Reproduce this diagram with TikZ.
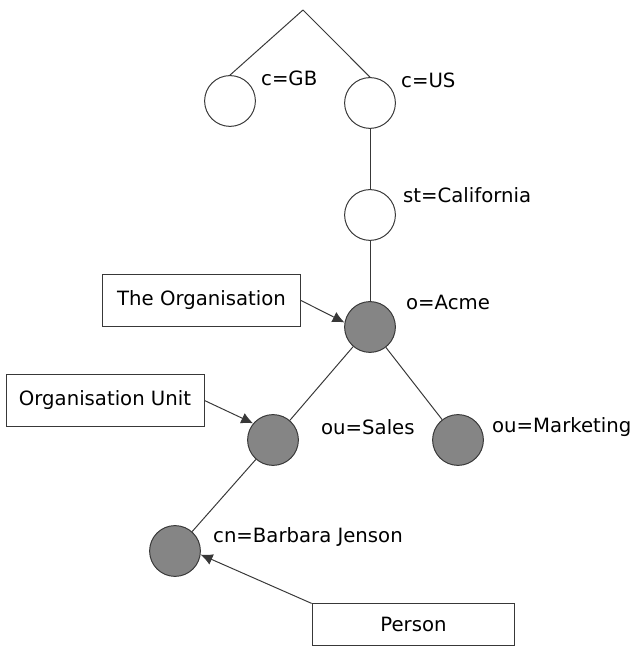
\documentclass[tikz,border=0pt]{standalone}
\usepackage{fontspec}
\setmainfont{DejaVu Sans}
\usetikzlibrary{positioning, arrows.meta}
\definecolor{entrygray}{HTML}{858585}
\definecolor{inkgray}{HTML}{383838}

\begin{document}
\begin{tikzpicture}[
  font=\fontsize{14pt}{17pt}\selectfont,
  entry/.style={circle, draw=inkgray, line width=0.7pt, minimum size=1.27cm, inner sep=0pt},
  emptyentry/.style={entry, fill=white},
  fullentry/.style={entry, fill=entrygray},
  rdn/.style={inner sep=0pt, anchor=west},
  tagbox/.style={draw=inkgray, line width=0.7pt, minimum width=4.95cm, minimum height=1.32cm, inner sep=0pt},
  link/.style={draw=inkgray, line width=0.7pt},
  arrow/.style={link, -{Latex[length=8.5pt,width=8pt]}},
]
\useasboundingbox (0,0) rectangle (15.925,16.15);

\coordinate (root) at (7.575,15.9);
\node[emptyentry] (gb) at (5.75,13.625) {};
\node[emptyentry] (us) at (9.25,13.575) {};
\node[emptyentry] (ca) at (9.25,10.775) {};
\node[fullentry] (acme) at (9.25,7.975) {};
\node[fullentry] (sales) at (6.825,5.15) {};
\node[fullentry] (mkt) at (11.45,5.15) {};
\node[fullentry] (barbara) at (4.375,2.375) {};

% attribute names beside each entry
\node[rdn, right=0.125cm of gb.east, yshift=0.575cm] (gbname) {c=GB};
\node[rdn, right=0.125cm of us.east, yshift=0.575cm] (usname) {c=US};
\node[rdn, right=0.175cm of ca.east, yshift=0.5cm] (caname) {st=California};
\node[rdn, right=0.25cm of acme.east, yshift=0.625cm] (acmename) {o=Acme};
\node[rdn, right=0.55cm of sales.east, yshift=0.325cm] (salesname) {ou=Sales};
\node[rdn, right=0.2cm of mkt.east, yshift=0.325cm] (mktname) {ou=Marketing};
\node[rdn, right=0.3cm of barbara.east, yshift=0.35cm] (barbaraname) {cn=Barbara Jenson};

\node[tagbox] (org) at (5.0375,8.6375) {The Organisation};
\node[tagbox] (unit) at (2.625,6.1375) {Organisation Unit};
\node[tagbox, minimum width=5.07cm, minimum height=1.03cm] (person) at (10.3375,0.5375) {Person};

\draw[link] (root) -- (gb.north);
\draw[link] (root) -- (us.north);
\draw[link] (us) -- (ca);
\draw[link] (ca) -- (acme);
\draw[link] (acme) -- (sales);
\draw[link] (acme) -- (mkt);
\draw[link] (sales) -- (barbara);

\draw[arrow] (org.east) -- (acme.170);
\draw[arrow] (unit.east) -- (sales.140);
\draw[arrow] (person.north west) -- (barbara.-8);

\end{tikzpicture}
\end{document}
